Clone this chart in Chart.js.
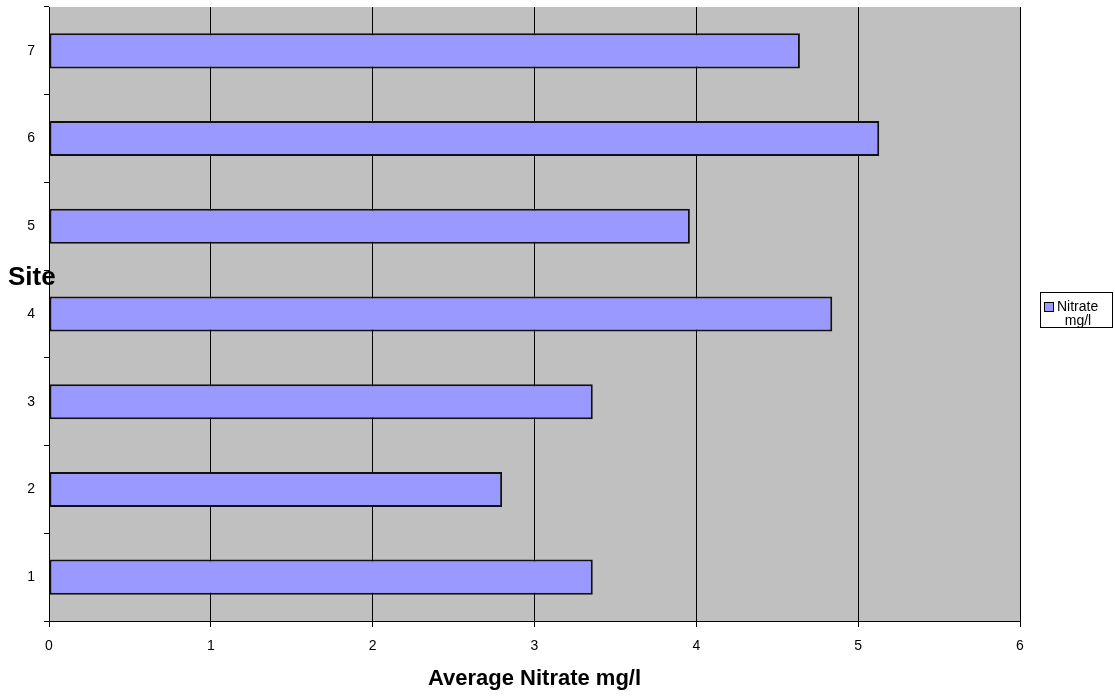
<!DOCTYPE html>
<html>
<head>
<meta charset="utf-8">
<script src="https://cdn.jsdelivr.net/npm/chart.js@4"></script>
<style>
  html, body { margin: 0; padding: 0; background: #ffffff; }
  #wrap { width: 1115px; height: 700px; position: relative; }
</style>
</head>
<body>
<div id="wrap"><canvas id="chart" width="1115" height="700"></canvas></div>
<script>
// Sites and their average nitrate readings (mg/l)
const sites = ['1', '2', '3', '4', '5', '6', '7'];
const nitrate = [3.36, 2.80, 3.36, 4.84, 3.96, 5.13, 4.64];
const xTicks = [0, 1, 2, 3, 4, 5, 6];
const seriesLabel = ['Nitrate', 'mg/l'];
const xTitle = 'Average Nitrate mg/l';
const yTitle = 'Site';

const FONT = '"Liberation Sans", Arial, sans-serif';

// Grey plot background, free-standing axis titles and a boxed legend
const decor = {
  id: 'decor',
  beforeDraw(chart) {
    const { ctx, chartArea: a } = chart;
    ctx.save();
    ctx.fillStyle = '#c0c0c0';
    ctx.fillRect(a.left, a.top, a.right - a.left, a.bottom - a.top);
    ctx.restore();
  },
  afterDraw(chart) {
    const { ctx, chartArea: a } = chart;
    ctx.save();
    ctx.fillStyle = '#000';
    ctx.textBaseline = 'middle';
    // x axis title
    ctx.font = 'bold 22px ' + FONT;
    ctx.textAlign = 'center';
    ctx.fillText(xTitle, (a.left + a.right) / 2, 679);
    // y axis title, horizontal
    ctx.font = 'bold 26px ' + FONT;
    ctx.textAlign = 'left';
    ctx.fillText(yTitle, 8, 278);

    // legend
    const bx = 1040.5, by = 292.5, bw = 72, bh = 35;
    ctx.fillStyle = '#ffffff';
    ctx.fillRect(bx, by, bw, bh);
    ctx.strokeStyle = '#000';
    ctx.lineWidth = 1;
    ctx.strokeRect(bx, by, bw, bh);
    const ds = chart.data.datasets[0];
    ctx.fillStyle = ds.backgroundColor;
    ctx.fillRect(1044.5, 302.5, 9, 9);
    ctx.strokeRect(1044.5, 302.5, 9, 9);
    ctx.fillStyle = '#000';
    ctx.font = '14px ' + FONT;
    ctx.textAlign = 'left';
    ctx.fillText(seriesLabel[0], 1057, 307);
    ctx.textAlign = 'center';
    ctx.fillText(seriesLabel[1], 1078, 321);
    ctx.restore();
  }
};

new Chart(document.getElementById('chart'), {
  type: 'bar',
  data: {
    labels: sites,
    datasets: [{
      label: seriesLabel.join(' '),
      data: nitrate,
      backgroundColor: '#9999ff',
      borderColor: '#111111',
      borderWidth: 2,
      borderSkipped: false,
      categoryPercentage: 1.0,
      barPercentage: 0.4
    }]
  },
  options: {
    indexAxis: 'y',
    responsive: false,
    animation: false,
    devicePixelRatio: 1,
    layout: { padding: { top: 7, right: 95, left: 0, bottom: 0 } },
    plugins: {
      legend: { display: false },
      tooltip: { enabled: false },
      title: { display: false }
    },
    scales: {
      x: {
        type: 'linear',
        min: xTicks[0],
        max: xTicks[xTicks.length - 1],
        afterBuildTicks(scale) { scale.ticks = xTicks.map(v => ({ value: v })); },
        afterFit(scale) { scale.height = 79; },
        grid: {
          display: true,
          drawOnChartArea: true,
          drawTicks: true,
          tickLength: 6,
          color: '#000000',
          lineWidth: 1
        },
        border: { display: true, color: '#000000', width: 1 },
        ticks: {
          color: '#000',
          font: { family: FONT, size: 14 },
          padding: 11,
          maxRotation: 0
        }
      },
      y: {
        type: 'category',
        reverse: true,
        offset: true,
        afterFit(scale) {
          scale.width = 49;
          scale.paddingTop = 0;
          scale.paddingBottom = 0;
        },
        grid: {
          display: true,
          offset: true,
          drawOnChartArea: false,
          drawTicks: true,
          tickLength: 5,
          color: '#000000'
        },
        border: { display: true, color: '#000000', width: 1 },
        ticks: {
          color: '#000',
          font: { family: FONT, size: 14 },
          padding: 9
        }
      }
    }
  },
  plugins: [decor]
});
</script>
</body>
</html>
